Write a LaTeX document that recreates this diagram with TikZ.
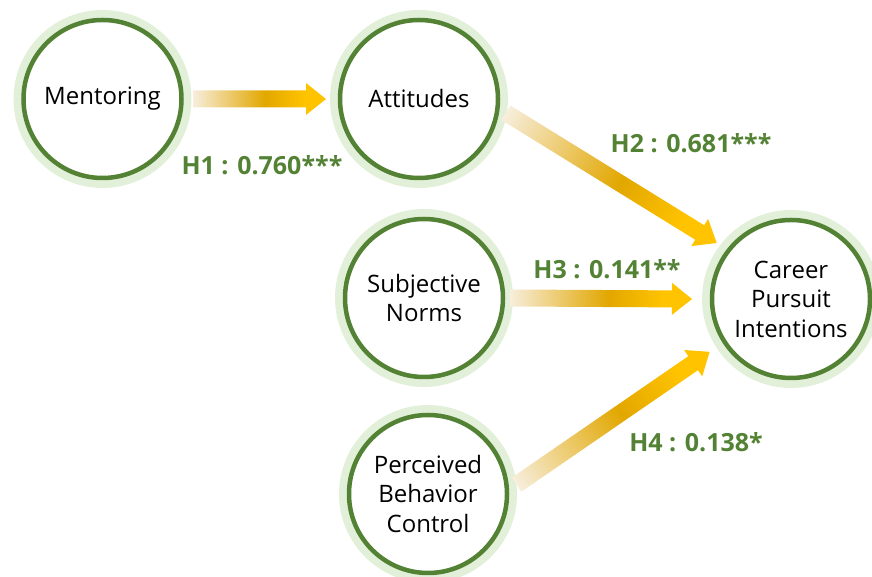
\documentclass[tikz,border=0pt]{standalone}
\usepackage{fontspec}
\setmainfont{Open Sans}
\usepackage{xcolor}
\usepackage{tikz}
\usetikzlibrary{calc}

\definecolor{ringdark}{HTML}{548235}
\definecolor{ringlight}{HTML}{E2F0D9}
\definecolor{goldpale}{HTML}{F7EEDC}
\definecolor{golddeep}{HTML}{E2A700}
\definecolor{goldbright}{HTML}{FFC300}

\pgfdeclarehorizontalshading{goldfade}{100bp}{color(0bp)=(goldpale);
  color(25bp)=(goldpale); color(52bp)=(golddeep); color(67bp)=(goldbright);
  color(100bp)=(goldbright)}

% thick shaded arrow from #1 to #2
\newcommand{\hyparrow}[2]{%
  \path let \p1=(#1), \p2=(#2),
    \n1={atan2(\y2-\y1,\x2-\x1)}, \n2={veclen(\x2-\x1,\y2-\y1)} in
    \pgfextra{\xdef\arrowang{\n1}\xdef\arrowlen{\n2}%
      \xdef\arrowx{\x1}\xdef\arrowy{\y1}};
  \begin{scope}[transform canvas={shift={(\arrowx,\arrowy)},rotate=\arrowang}]
    \shade[shading=goldfade] (0,-8.5) -- ({\arrowlen-20},-8.5)
      -- ({\arrowlen-20},-16) -- (\arrowlen,0) -- ({\arrowlen-20},16)
      -- ({\arrowlen-20},8.5) -- (0,8.5) -- cycle;
  \end{scope}}

\begin{document}
\begin{tikzpicture}[x=1pt,y=1pt,
 construct/.style={circle,minimum size=158pt,inner sep=0pt,fill=white,
   draw=ringdark,line width=4.5pt,
   preaction={draw=ringlight,line width=20pt},
   align=center,font=\fontsize{24}{29.5}\selectfont},
 coef/.style={text=ringdark,font=\fontsize{25}{28}\selectfont\bfseries}
]
\useasboundingbox (0,0) rectangle (872,577);

\node[construct] (ment) at (102.5,478) {Mentoring};
\node[construct] (att) at (419,478) {Attitudes};
\node[construct] (subj) at (424,279) {Subjective\\Norms};
\node[construct] (pbc) at (428,83) {Perceived\\Behavior\\Control};
\node[construct] (cpi) at (791,278) {Career\\Pursuit\\Intentions};

\coordinate (h1from) at ($(ment)+(0:90.5)$);
\coordinate (h1to) at ($(att)+(180:93)$);
\coordinate (h2from) at ($(att)+(-9:88)$);
\coordinate (h2to) at ($(cpi)+(143:93)$);
\coordinate (h3from) at ($(subj)+(0:86)$);
\coordinate (h3to) at ($(cpi)+(180:99)$);
\coordinate (h4from) at ($(pbc)+(6:89)$);
\coordinate (h4to) at ($(cpi)+(213:97)$);

\hyparrow{h1from}{h1to}
\hyparrow{h2from}{h2to}
\hyparrow{h3from}{h3to}
\hyparrow{h4from}{h4to}

\node[coef] (h1) at (262,412) {H1 : 0.760***};
\node[coef] (h2) at (691,434) {H2 : 0.681***};
\node[coef] (h3) at (607,308) {H3 : 0.141**};
\node[coef] (h4) at (696,135) {H4 : 0.138*};
\end{tikzpicture}
\end{document}
